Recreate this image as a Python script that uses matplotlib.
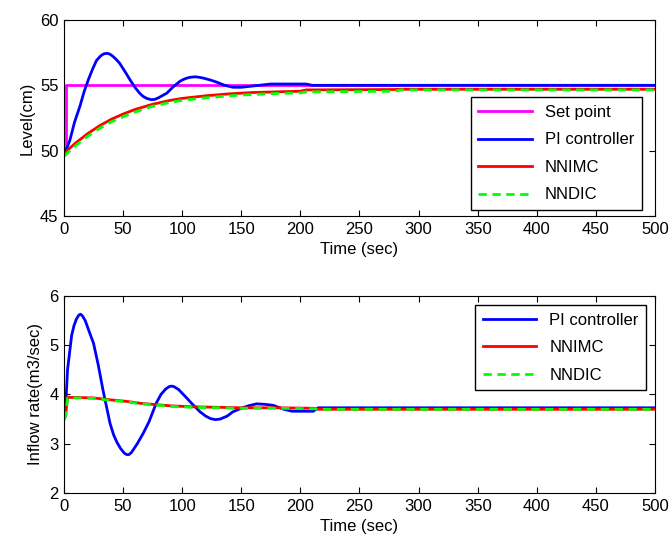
import numpy as np
import matplotlib
matplotlib.use("Agg")
import matplotlib.pyplot as plt

plt.rcParams['font.family'] = ['Liberation Sans', 'DejaVu Sans']
plt.rcParams['font.size'] = 12

# --- level response ---
t_sp = [0, 2, 2, 500]
sp = [50, 50, 55, 55]

t_pi = [0, 2, 5, 9, 13.5, 17, 20.5, 24, 27.5, 31, 33.5, 36, 38.5, 41, 44, 47, 52, 56, 60,
        64, 67, 70, 74, 77, 80, 87, 92, 98, 101, 104, 107, 111, 114, 118, 124, 129, 136,
        143, 150, 160, 170, 175, 205, 210, 500]
pi_level = [50.0, 50.1, 50.8, 52.2, 53.4, 54.5, 55.4, 56.2, 56.9, 57.25, 57.4, 57.45, 57.4,
            57.25, 57.0, 56.7, 56.0, 55.4, 54.85, 54.4, 54.15, 54.0, 53.9, 53.93, 54.05,
            54.4, 54.85, 55.3, 55.45, 55.55, 55.62, 55.65, 55.62, 55.55, 55.4, 55.25, 55.0,
            54.85, 54.85, 54.95, 55.05, 55.1, 55.1, 55.0, 55.0]

t_nn = [0, 5, 10, 20, 30, 40, 50, 60, 75, 90, 100, 120, 140, 160, 180, 200, 205, 280, 285, 500]
nnimc_level = [49.75, 50.2, 50.6, 51.3, 51.9, 52.4, 52.8, 53.15, 53.55, 53.85, 54.0, 54.2,
               54.35, 54.45, 54.5, 54.55, 54.65, 54.68, 54.7, 54.7]
nndic_level = [49.55, 50.0, 50.4, 51.1, 51.7, 52.2, 52.6, 52.95, 53.4, 53.7, 53.85, 54.05,
               54.2, 54.3, 54.38, 54.42, 54.5, 54.55, 54.65, 54.65]

# --- inflow rate ---
t_pi_q = [0, 1, 3, 6.5, 8.5, 10.5, 12.5, 14, 15.5, 18, 21, 25, 29, 33, 36, 39, 42, 45, 48,
          51, 53, 55, 57, 62, 67, 72, 78, 82, 86, 89, 91, 93, 97, 103, 108, 115, 120, 124,
          128, 132, 138, 143, 150, 156, 163, 170, 177, 186, 193, 200, 211, 215, 500]
pi_q = [3.5, 3.55, 4.5, 5.2, 5.4, 5.53, 5.61, 5.63, 5.6, 5.5, 5.3, 5.04, 4.6, 4.09, 3.75,
        3.41, 3.18, 3.02, 2.9, 2.81, 2.78, 2.78, 2.82, 3.0, 3.21, 3.45, 3.82, 4.0, 4.11,
        4.16, 4.17, 4.16, 4.1, 3.95, 3.82, 3.65, 3.56, 3.51, 3.49, 3.5, 3.56, 3.65, 3.72,
        3.77, 3.81, 3.8, 3.78, 3.7, 3.66, 3.66, 3.66, 3.73, 3.73]

t_nn_q = [0, 1.5, 3, 10, 25, 40, 53, 65, 75, 90, 109, 130, 149, 180, 211, 215, 500]
nnimc_q = [3.5, 3.6, 3.94, 3.94, 3.93, 3.89, 3.86, 3.82, 3.8, 3.77, 3.75, 3.74, 3.73,
           3.73, 3.72, 3.7, 3.7]
nndic_q = [3.5, 3.55, 3.93, 3.93, 3.92, 3.88, 3.85, 3.81, 3.79, 3.76, 3.74, 3.73, 3.72,
           3.72, 3.71, 3.7, 3.7]

x_ticks = np.arange(0, 501, 50)

fig = plt.figure(figsize=(6.72, 5.43), dpi=100)
ax1 = fig.add_axes([0.0952, 0.6022, 0.8795, 0.361])
ax2 = fig.add_axes([0.0952, 0.0921, 0.8795, 0.3628])

lw = 2
ax1.plot(t_sp, sp, color='#ff00ff', lw=lw, label='Set point')
ax1.plot(t_pi, pi_level, color='#0000ff', lw=lw, label='PI controller')
ax1.plot(t_nn, nnimc_level, color='#ff0000', lw=lw, label='NNIMC')
ax1.plot(t_nn, nndic_level, color='#00ff00', lw=lw, ls=(0, (3, 2)), label='NNDIC')
ax1.set_xlim(0, 500)
ax1.set_ylim(45, 60)
ax1.set_yticks([45, 50, 55, 60])
ax1.set_xticks(x_ticks)
ax1.set_xlabel('Time (sec)')
ax1.set_ylabel('Level(cm)')
ax1.legend(loc='lower right', bbox_to_anchor=(0.978, 0.031), borderaxespad=0,
           fancybox=False, edgecolor='black', framealpha=1, handlelength=3.2,
           labelspacing=0.75, borderpad=0.45)

ax2.plot(t_pi_q, pi_q, color='#0000ff', lw=lw, label='PI controller')
ax2.plot(t_nn_q, nnimc_q, color='#ff0000', lw=lw, label='NNIMC')
ax2.plot(t_nn_q, nndic_q, color='#00ff00', lw=lw, ls=(0, (3, 2)), label='NNDIC')
ax2.set_xlim(0, 500)
ax2.set_ylim(2, 6)
ax2.set_yticks([2, 3, 4, 5, 6])
ax2.set_xticks(x_ticks)
ax2.set_xlabel('Time (sec)')
ax2.set_ylabel('Inflow rate(m3/sec)')
ax2.legend(loc='upper right', bbox_to_anchor=(0.985, 0.954), borderaxespad=0,
           fancybox=False, edgecolor='black', framealpha=1, handlelength=3.2,
           labelspacing=0.75, borderpad=0.45)

for ax in (ax1, ax2):
    ax.tick_params(direction='in', top=True, right=True, length=4, pad=4)
    for s in ax.spines.values():
        s.set_linewidth(0.8)

fig.savefig('out.png', dpi=100)
